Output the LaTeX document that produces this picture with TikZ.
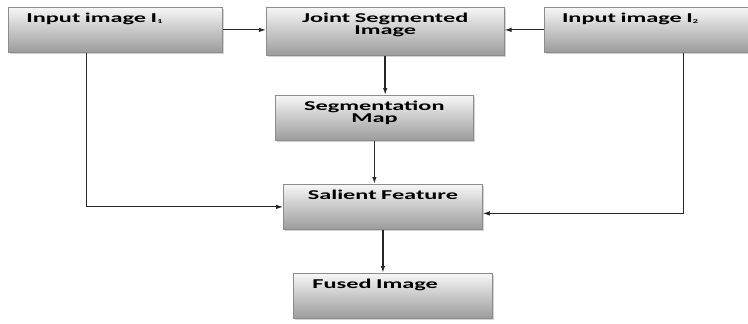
\documentclass[tikz,border=0pt]{standalone}
\usepackage{xcolor}
\usepackage{fontspec}
\usepackage{tikz}
\usetikzlibrary{arrows.meta, positioning, shadows}
\newfontfamily\boxfont{Carlito}[FakeStretch=1.8, WordSpace=0.55]
\definecolor{boxborder}{RGB}{140, 140, 140}
\definecolor{boxtop}{RGB}{246, 246, 246}
\definecolor{boxbottom}{RGB}{155, 155, 155}

\begin{document}
\begin{tikzpicture}[
  x=1pt, y=-1pt,
  every node/.style={font=\boxfont\bfseries\fontsize{13.5}{12}\selectfont},
  box/.style={rectangle, draw=boxborder, line width=0.8pt, top color=boxtop, bottom color=boxbottom, drop shadow={shadow xshift=1.5pt, shadow yshift=-1.5pt, opacity=0.35}, inner ysep=0pt, text height=15pt, text depth=30pt, anchor=north west},
  leftbox/.style={box, inner xsep=18pt, align=left},
  midbox/.style={box, inner xsep=0pt, align=center},
  arrow/.style={-{Latex[length=7pt, width=4.5pt]}, line width=0.9pt, color=black!85},
  mainarrow/.style={arrow, line width=1.5pt},
]
  \useasboundingbox (0,0) rectangle (748,324);

  % top row
  \node[leftbox, text width=178pt] (in1) at (8,7) {Input image I{\fontsize{9}{9}\selectfont\textsubscript{1}}};
  \node[midbox, text width=238pt, text depth=33pt, right=43pt of in1.north east, anchor=north west] (joint) {Joint Segmented\\Image};
  \node[leftbox, text width=176pt, right=39pt of joint.north east, anchor=north west] (in2) {Input image I{\fontsize{9}{9}\selectfont\textsubscript{2}}};

  % middle column
  \node[midbox, text width=198pt] (segmap) at (275,95) {Segmentation\\Map};
  \node[midbox, text width=199pt] (salient) at (283,184) {Salient Feature};
  \node[leftbox, inner xsep=19pt, text width=161pt] (fused) at (293,273) {Fused Image};

  \draw[arrow] (in1.east) -- (in1.east -| joint.west);
  \draw[arrow] (in2.west) -- (in2.west -| joint.east);
  \draw[mainarrow] (joint.south) -- (joint.south |- segmap.north);
  \draw[mainarrow] (segmap.south) -- (segmap.south |- salient.north);
  \draw[arrow] ([xshift=-29pt]in1.south) |- (salient.west);
  \draw[arrow] ([xshift=33pt]in2.south) |- ([yshift=-6.5pt]salient.east);
  \draw[mainarrow] (salient.south) -- (salient.south |- fused.north);
\end{tikzpicture}
\end{document}
